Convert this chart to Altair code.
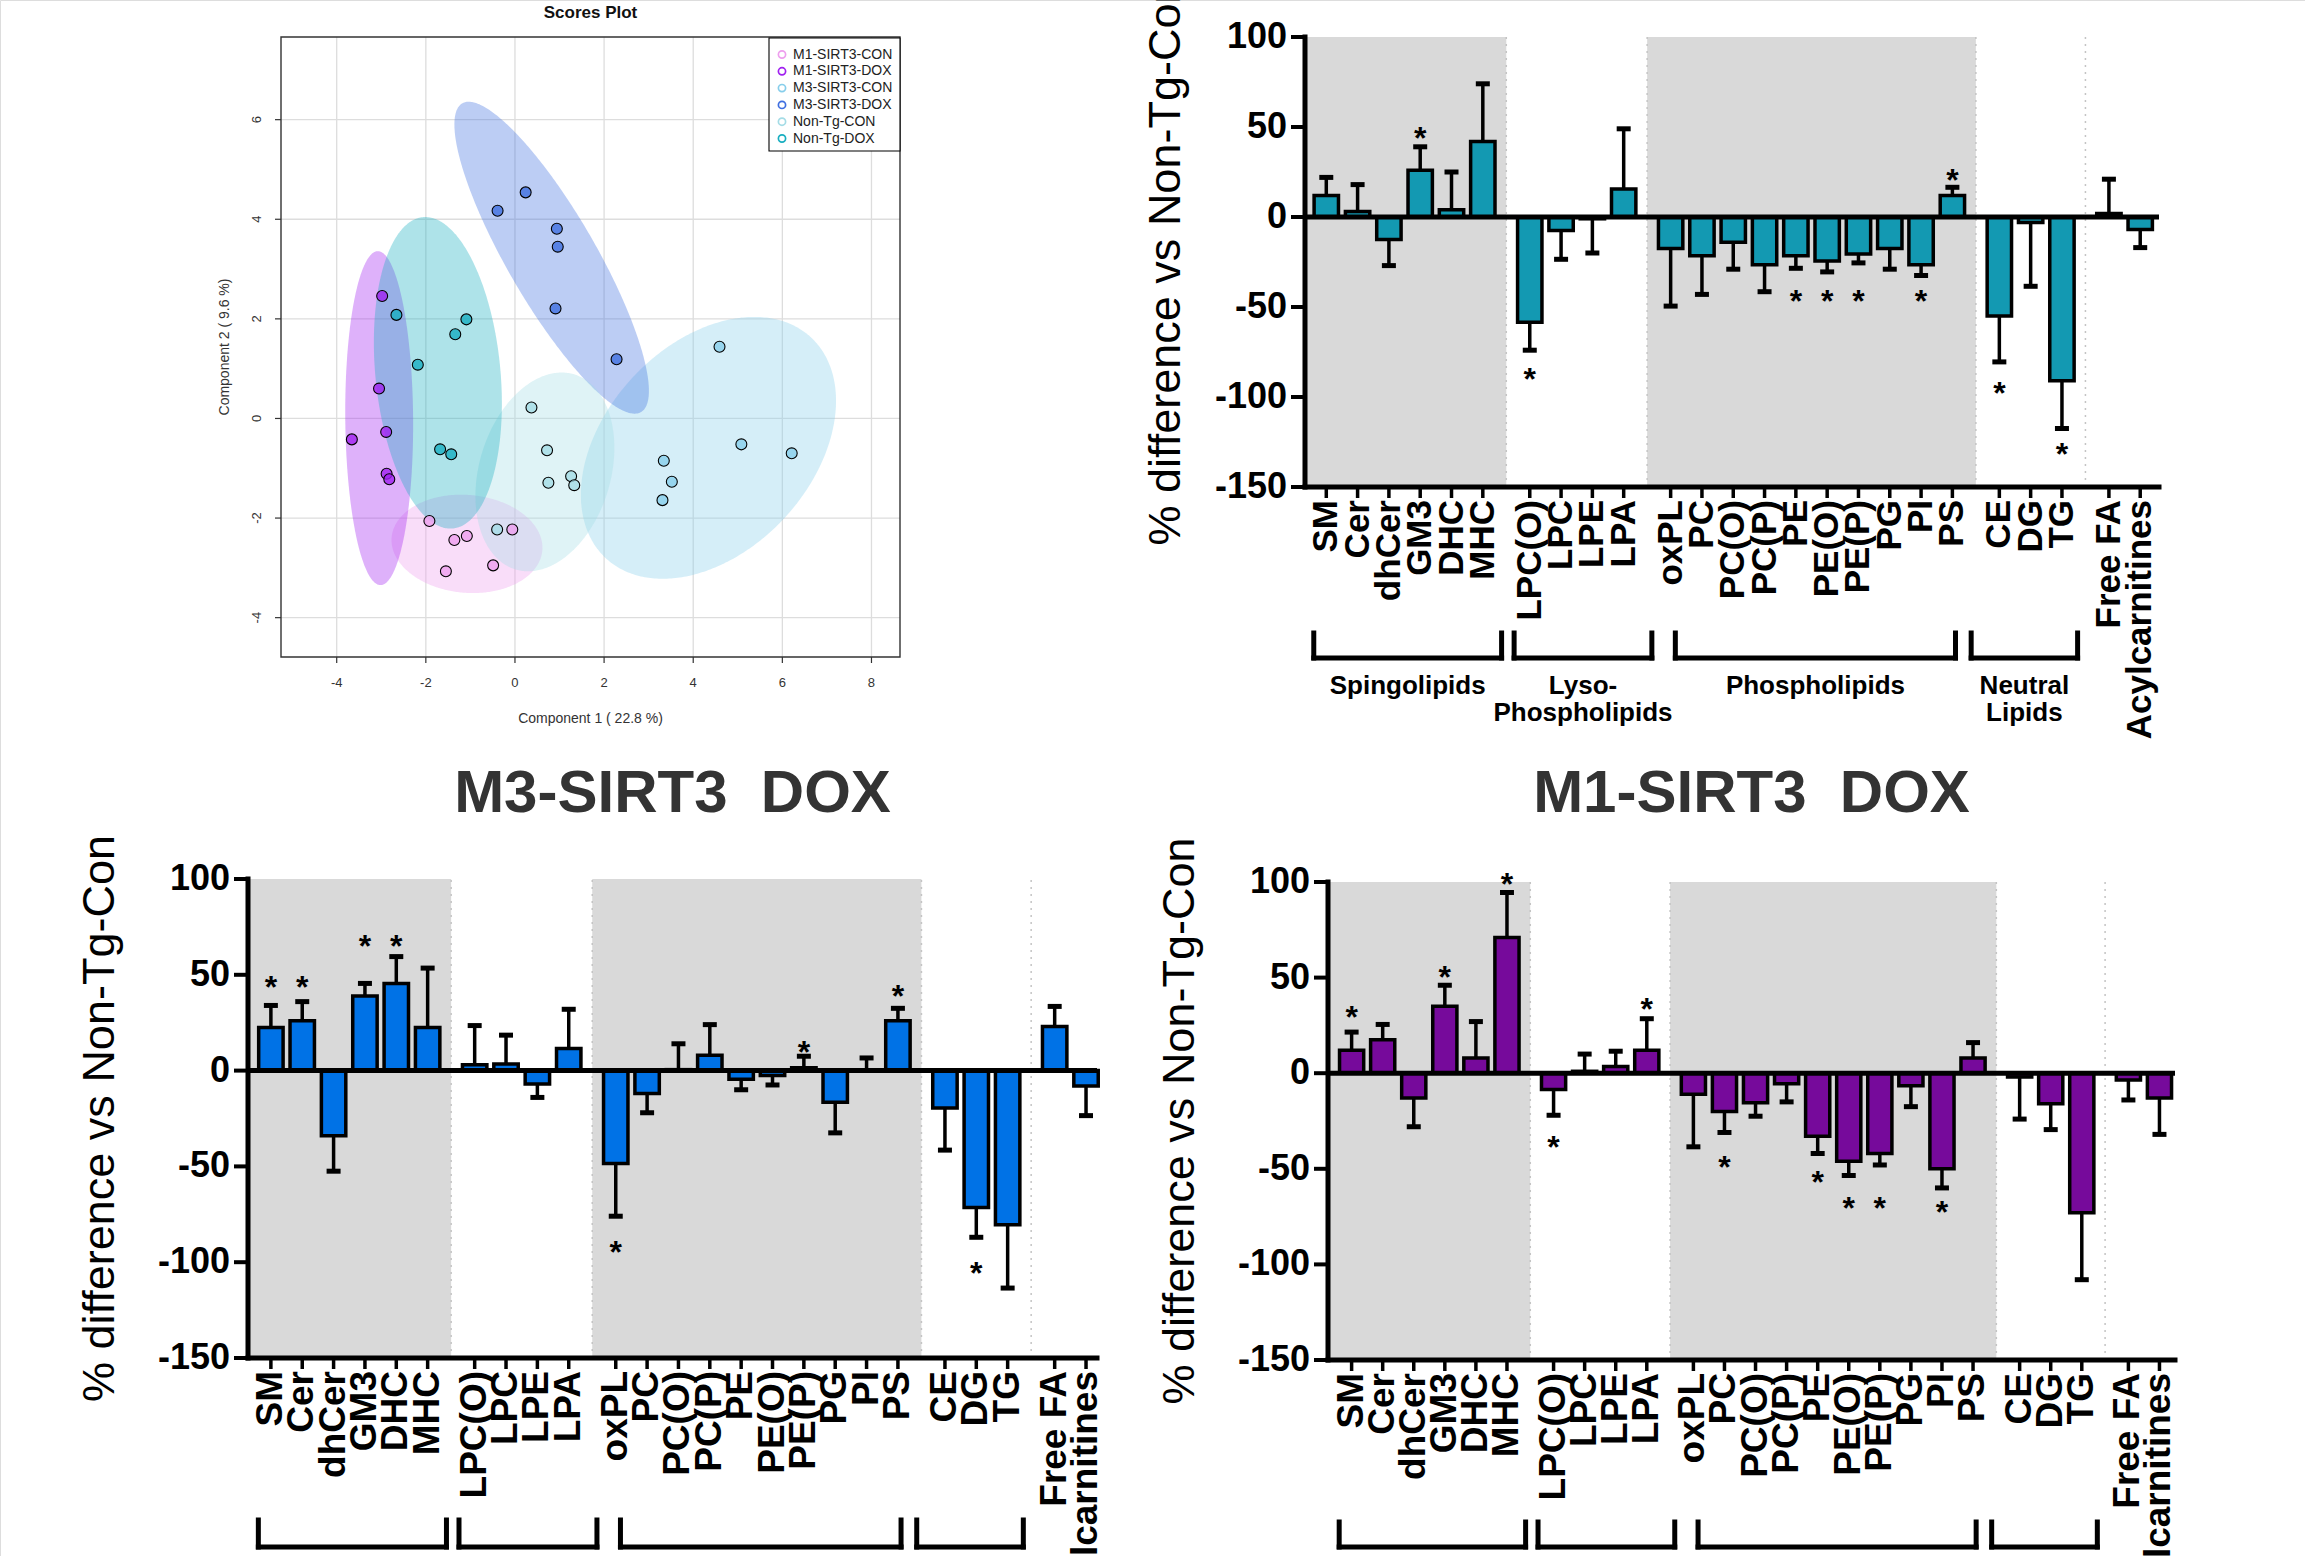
import altair as alt
import numpy as np
import pandas as pd

W, H = 2305, 1556
FONT = "Liberation Sans"

# ------------------------------------------------------------------
# Scores plot (PLS-DA) data
# ------------------------------------------------------------------
score_groups = ["M1-SIRT3-CON", "M1-SIRT3-DOX", "M3-SIRT3-CON",
                "M3-SIRT3-DOX", "Non-Tg-CON", "Non-Tg-DOX"]
score_colors = ["#EE9FEE", "#A020F0", "#87CEEB", "#3F6FE0", "#A4DCE6", "#18AEC0"]

m1_con_x = [-1.92, -1.36, -1.08, -1.55, -0.49, -0.06]
m1_con_y = [-2.06, -2.44, -2.36, -3.07, -2.95, -2.23]
m1_dox_x = [-2.98, -3.05, -2.89, -3.66, -2.88, -2.82]
m1_dox_y = [2.46, 0.60, -0.27, -0.42, -1.11, -1.22]
m3_con_x = [4.59, 5.08, 6.21, 3.34, 3.52, 3.31]
m3_con_y = [1.44, -0.52, -0.70, -0.85, -1.27, -1.64]
m3_dox_x = [0.24, -0.39, 0.94, 0.96, 0.91, 2.28]
m3_dox_y = [4.54, 4.17, 3.81, 3.45, 2.21, 1.19]
ntg_con_x = [0.37, 0.72, 0.75, 1.26, 1.33, -0.40]
ntg_con_y = [0.22, -0.64, -1.29, -1.16, -1.34, -2.23]
ntg_dox_x = [-2.66, -1.09, -1.34, -2.18, -1.68, -1.43]
ntg_dox_y = [2.08, 1.99, 1.69, 1.08, -0.62, -0.72]

score_xs = [m1_con_x, m1_dox_x, m3_con_x, m3_dox_x, ntg_con_x, ntg_dox_x]
score_ys = [m1_con_y, m1_dox_y, m3_con_y, m3_dox_y, ntg_con_y, ntg_dox_y]

score_xticks = [-4, -2, 0, 2, 4, 6, 8]
score_yticks = [-4, -2, 0, 2, 4, 6]

# ------------------------------------------------------------------
# Lipid class % difference data
# ------------------------------------------------------------------
categories = ["SM", "Cer", "dhCer", "GM3", "DHC", "MHC",
              "LPC(O)", "LPC", "LPE", "LPA",
              "oxPL", "PC", "PC(O)", "PC(P)", "PE", "PE(O)", "PE(P)", "PG", "PI", "PS",
              "CE", "DG", "TG",
              "Free FA", "Acylcarnitines"]
class_groups = ["Spingolipids", "Lyso-\nPhospholipids", "Phospholipids", "Neutral\nLipids", ""]
group_sizes = [6, 4, 10, 3, 2]

ntg_mean = [12, 3, -12.5, 26, 4, 42, -58.5, -7.5, -1, 15.5,
            -17.5, -21.5, -14, -26.5, -21.5, -24.5, -20.5, -17.5, -26.5, 12,
            -55, -3, -91, 2, -7]
ntg_err = [10, 15, 14.5, 13, 21, 32, 15.5, 16, 19, 33.5,
           32, 21.5, 15, 15, 7, 6, 5, 11.5, 6, 4.5,
           25.5, 35.5, 26.5, 19, 10]
ntg_star = {"GM3": 48, "LPC(O)": -86, "PE": -42.5, "PE(O)": -42.5, "PE(P)": -42.5,
            "PI": -42.5, "PS": 24.5, "CE": -94, "TG": -128}

m3_mean = [22.5, 26, -34, 39, 45.5, 22.5, 3, 3.5, -7, 11.5,
           -48.5, -12, 0.5, 8, -4.5, -2.5, 1.5, -16.5, 0.3, 26,
           -19.5, -71.5, -80.5, 23, -8]
m3_err = [11.5, 10, 18.5, 6.5, 14, 31, 20.5, 15, 7, 20.5,
          27.5, 10, 13.5, 16, 5.5, 5, 6, 16, 6.3, 6.5,
          22, 15.5, 33, 10.5, 15.5]
m3_star = {"SM": 47.5, "Cer": 47.5, "GM3": 68.5, "DHC": 68.5, "oxPL": -91,
           "PE(P)": 13.5, "PS": 42.5, "DG": -102}

m1_mean = [12, 17.5, -13, 35, 8, 71, -8.5, 1, 3.5, 12,
           -11, -20, -15.5, -5.5, -33, -46, -42, -6.5, -50, 8,
           -2, -16, -73, -3.5, -13]
m1_err = [9.5, 8, 15, 11, 19, 23.5, 13.5, 9, 8, 16.5,
          27.5, 11, 7, 9.5, 9, 7.5, 6, 11, 10, 8,
          22, 13.5, 35, 10.5, 19]
m1_star = {"SM": 33, "GM3": 54, "MHC": 102.5, "LPC(O)": -35, "LPA": 37.5,
           "PC": -45.5, "PE": -53, "PE(O)": -67, "PE(P)": -67, "PI": -69}

y_ticks_bar = [-150, -100, -50, 0, 50, 100]
Y_TITLE = "% difference vs Non-Tg-Con"

# ------------------------------------------------------------------
# derived layout helpers
# ------------------------------------------------------------------
one = pd.DataFrame({"k": [0]})

positions, starts, ends = [], [], []
p = 0.0
for gi, n in enumerate(group_sizes):
    starts.append(p)
    for j in range(n):
        positions.append(p)
        p += 1.0
    ends.append(p - 1.0)
    p += 0.5
bounds = [(ends[i] + starts[i + 1]) / 2 for i in range(len(group_sizes) - 1)]
BR_PAD = [(0.4, 0.6), (0.5, 0.9), (-0.15, 0.1), (0.9, 0.5)]

# ------------------------------------------------------------------
# Scores plot panel
# ------------------------------------------------------------------
SX_DOM, SX_RNG = [-5.25, 8.64], [281, 900]
SY_DOM, SY_RNG = [-4.79, 7.66], [657, 37]
sx_sc = alt.Scale(domain=SX_DOM, range=SX_RNG, nice=False, zero=False)
sy_sc = alt.Scale(domain=SY_DOM, range=SY_RNG, nice=False, zero=False)
fill_sc = alt.Scale(domain=score_groups, range=score_colors)


def inv_x(px):
    return SX_DOM[0] + (px - SX_RNG[0]) / (SX_RNG[1] - SX_RNG[0]) * (SX_DOM[1] - SX_DOM[0])


def inv_y(px):
    return SY_DOM[0] + (px - SY_RNG[0]) / (SY_RNG[1] - SY_RNG[0]) * (SY_DOM[1] - SY_DOM[0])


pts = pd.concat([pd.DataFrame({"group": g, "x": xs, "y": ys})
                 for g, xs, ys in zip(score_groups, score_xs, score_ys)], ignore_index=True)

K2 = 5.991  # chi-square(0.95, 2) -> 95% confidence ellipse
ell_rows = []
for g, xs, ys in zip(score_groups, score_xs, score_ys):
    xs, ys = np.asarray(xs), np.asarray(ys)
    cx, cy = xs.mean(), ys.mean()
    S = np.cov(xs, ys)
    A = np.linalg.inv(S)
    a, b, d = A[0, 0], A[0, 1], A[1, 1]
    half = np.sqrt(K2 * S[0, 0])
    dx = -half * np.cos(np.linspace(0, np.pi, 181))
    disc = np.clip(b * b * dx * dx - d * (a * dx * dx - K2), 0, None)
    lo = cy + (-b * dx - np.sqrt(disc)) / d
    hi = cy + (-b * dx + np.sqrt(disc)) / d
    ell_rows.append(pd.DataFrame({"group": g, "ex": cx + dx, "lo": lo, "hi": hi}))
ell = pd.concat(ell_rows, ignore_index=True)


def sX(field=None, datum=None):
    if datum is not None:
        return alt.X(datum=datum, type="quantitative", scale=sx_sc, axis=None)
    return alt.X(field, type="quantitative", scale=sx_sc, axis=None)


def sY(field=None, datum=None):
    if datum is not None:
        return alt.Y(datum=datum, type="quantitative", scale=sy_sc, axis=None)
    return alt.Y(field, type="quantitative", scale=sy_sc, axis=None, stack=None)


sxt = pd.DataFrame({"g": score_xticks, "t": [str(v) for v in score_xticks]})
syt = pd.DataFrame({"g": score_yticks, "t": [str(v) for v in score_yticks]})

grid_v = alt.Chart(sxt).mark_rule(color="#DDDDDD", strokeWidth=1.3).encode(
    x=sX("g"), y=sY(datum=SY_DOM[0]), y2=alt.Y2(datum=SY_DOM[1]))
grid_h = alt.Chart(syt).mark_rule(color="#DDDDDD", strokeWidth=1.3).encode(
    y=sY("g"), x=sX(datum=SX_DOM[0]), x2=alt.X2(datum=SX_DOM[1]))

ellipses = alt.Chart(ell).mark_area(opacity=0.35).encode(
    x=sX("ex"), y=sY("lo"), y2="hi:Q",
    fill=alt.Fill("group:N", scale=fill_sc, legend=None))

points = alt.Chart(pts).mark_circle(size=120, stroke="black", strokeWidth=1.1,
                                    opacity=1, fillOpacity=0.8).encode(
    x=sX("x"), y=sY("y"),
    fill=alt.Fill("group:N", scale=fill_sc, legend=None))

frame = alt.Chart(one).mark_rect(fillOpacity=0, stroke="#333333", strokeWidth=1.4).encode(
    x=sX(datum=SX_DOM[0]), x2=alt.X2(datum=SX_DOM[1]),
    y=sY(datum=SY_DOM[0]), y2=alt.Y2(datum=SY_DOM[1]))

sx_ticks = alt.Chart(sxt).mark_rule(color="#333333", strokeWidth=1.2, y2Offset=6).encode(
    x=sX("g"), y=sY(datum=SY_DOM[0]), y2=alt.Y2(datum=SY_DOM[0]))
sx_labels = alt.Chart(sxt).mark_text(font=FONT, fontSize=13, color="#333333",
                                     baseline="middle", align="center", yOffset=26).encode(
    x=sX("g"), y=sY(datum=SY_DOM[0]), text="t:N")
sy_ticks = alt.Chart(syt).mark_rule(color="#333333", strokeWidth=1.2, x2Offset=-6).encode(
    y=sY("g"), x=sX(datum=SX_DOM[0]), x2=alt.X2(datum=SX_DOM[0]))
sy_labels = alt.Chart(syt).mark_text(font=FONT, fontSize=13, color="#333333", angle=270,
                                     baseline="middle", align="center", xOffset=-24).encode(
    y=sY("g"), x=sX(datum=SX_DOM[0]), text="t:N")

sx_title = alt.Chart(one).mark_text(text="Component 1 ( 22.8 %)", font=FONT, fontSize=14,
                                    color="#333333", baseline="middle", align="center").encode(
    x=alt.value((SX_RNG[0] + SX_RNG[1]) / 2), y=alt.value(719))
sy_title = alt.Chart(one).mark_text(text="Component 2 ( 9.6 %)", font=FONT, fontSize=14,
                                    color="#333333", baseline="middle", align="center",
                                    angle=270).encode(
    x=alt.value(225), y=alt.value(347))
score_title = alt.Chart(one).mark_text(text="Scores Plot", font=FONT, fontSize=17,
                                       fontWeight="bold", color="#111111",
                                       baseline="middle", align="center").encode(
    x=alt.value((SX_RNG[0] + SX_RNG[1]) / 2), y=alt.value(13))

# legend (drawn inside the plot frame, top-right corner)
LEG_BOX = (769, 38, 900, 151)
leg_df = pd.DataFrame({"group": score_groups,
                       "sx": [inv_x(782)] * 6,
                       "tx": [inv_x(793)] * 6,
                       "ly": [inv_y(54.5 + 16.8 * i) for i in range(6)]})
leg_box = alt.Chart(one).mark_rect(fill="white", stroke="black", strokeWidth=1.1).encode(
    x=sX(datum=inv_x(LEG_BOX[0])), x2=alt.X2(datum=inv_x(LEG_BOX[2])),
    y=sY(datum=inv_y(LEG_BOX[1])), y2=alt.Y2(datum=inv_y(LEG_BOX[3])))
leg_sym = alt.Chart(leg_df).mark_point(filled=False, size=52, strokeWidth=1.7,
                                       opacity=1).encode(
    x=sX("sx"), y=sY("ly"),
    stroke=alt.Stroke("group:N", scale=alt.Scale(domain=score_groups, range=score_colors),
                      legend=None))
leg_txt = alt.Chart(leg_df).mark_text(font=FONT, fontSize=14, color="#222222",
                                      align="left", baseline="middle").encode(
    x=sX("tx"), y=sY("ly"), text="group:N")

scores_panel = alt.layer(grid_v, grid_h, ellipses, points, frame, sx_ticks, sx_labels,
                         sy_ticks, sy_labels, sx_title, sy_title, score_title,
                         leg_box, leg_sym, leg_txt)


# ------------------------------------------------------------------
# Bar panels
# ------------------------------------------------------------------
def lipid_panel(means, errs, stars, fill, x_dom, x_rng, y_rng, lab_size, br_off,
                ytitle_x, title=None, title_dy=0, glabel_off=None):
    sx = alt.Scale(domain=x_dom, range=x_rng, nice=False, zero=False)
    sy = alt.Scale(domain=[-150, 100], range=y_rng, nice=False, zero=False)

    def X(field=None, datum=None):
        if datum is not None:
            return alt.X(datum=datum, type="quantitative", scale=sx, axis=None)
        return alt.X(field, type="quantitative", scale=sx, axis=None)

    def Y(field=None, datum=None):
        if datum is not None:
            return alt.Y(datum=datum, type="quantitative", scale=sy, axis=None)
        return alt.Y(field, type="quantitative", scale=sy, axis=None, stack=None)

    df = pd.DataFrame({"cat": categories, "pos": positions, "mean": means, "err": errs})
    df["end"] = np.where(df["mean"] >= 0, df["mean"] + df["err"], df["mean"] - df["err"])
    star_df = pd.DataFrame({"pos": [positions[categories.index(c)] for c in stars],
                            "sy": list(stars.values())})
    ytk = pd.DataFrame({"v": y_ticks_bar, "t": [str(v) for v in y_ticks_bar]})

    shade_df = pd.DataFrame({"x0": [x_dom[0], bounds[1]], "x1": [bounds[0], bounds[2]]})
    bound_df = pd.DataFrame({"b": bounds})
    br_lo = [starts[i] - BR_PAD[i][0] for i in range(4)]
    br_hi = [ends[i] + BR_PAD[i][1] for i in range(4)]
    br_df = pd.DataFrame({"lo": br_lo, "hi": br_hi,
                          "cx": [(l + h) / 2 for l, h in zip(br_lo, br_hi)],
                          "label": class_groups[:4]})
    br_ends = pd.DataFrame({"bx": br_lo + br_hi})

    slot = (x_rng[1] - x_rng[0]) / (x_dom[1] - x_dom[0])
    bar_size = slot * 0.88 - 3.5

    shade = alt.Chart(shade_df).mark_rect(color="#D9D9D9").encode(
        x=X("x0"), x2="x1:Q", y=Y(datum=-150), y2=alt.Y2(datum=100))
    dotted = alt.Chart(bound_df).mark_rule(color="#C4C4C4", strokeWidth=1.5,
                                           strokeDash=[2, 5]).encode(
        x=X("b"), y=Y(datum=-150), y2=alt.Y2(datum=100))
    stems = alt.Chart(df).mark_rule(color="black", strokeWidth=3.5).encode(
        x=X("pos"), y=Y("mean"), y2="end:Q")
    caps = alt.Chart(df).mark_tick(orient="horizontal", color="black", thickness=5,
                                   size=14, opacity=1).encode(
        x=X("pos"), y=Y("end"))
    bars = alt.Chart(df).mark_bar(size=bar_size, fill=fill, stroke="black",
                                  strokeWidth=3.5, strokeJoin="miter", opacity=1).encode(
        x=X("pos"), y=Y("mean"), y2=alt.Y2(datum=0))
    zero = alt.Chart(one).mark_rule(color="black", strokeWidth=5).encode(
        x=X(datum=x_dom[0]), x2=alt.X2(datum=x_dom[1]), y=Y(datum=0))
    star_marks = alt.Chart(star_df).mark_text(text="*", font=FONT, fontSize=32,
                                              fontWeight="bold", color="black",
                                              baseline="middle", dy=8).encode(
        x=X("pos"), y=Y("sy"))

    # axes
    y_dom = alt.Chart(one).mark_rule(color="black", strokeWidth=5, strokeCap="square").encode(
        x=X(datum=x_dom[0]), y=Y(datum=-150), y2=alt.Y2(datum=100))
    x_dom_line = alt.Chart(one).mark_rule(color="black", strokeWidth=5,
                                          strokeCap="square").encode(
        x=X(datum=x_dom[0]), x2=alt.X2(datum=x_dom[1]), y=Y(datum=-150))
    y_tk = alt.Chart(ytk).mark_rule(color="black", strokeWidth=4, xOffset=-14).encode(
        x=X(datum=x_dom[0]), x2=alt.X2(datum=x_dom[0]), y=Y("v"))
    y_lb = alt.Chart(ytk).mark_text(font=FONT, fontSize=36, fontWeight="bold", color="black",
                                    align="right", baseline="middle", xOffset=-18).encode(
        x=X(datum=x_dom[0]), y=Y("v"), text="t:N")
    x_tk = alt.Chart(df).mark_rule(color="black", strokeWidth=3.5, y2Offset=11).encode(
        x=X("pos"), y=Y(datum=-150), y2=alt.Y2(datum=-150))
    x_lb = alt.Chart(df).mark_text(font=FONT, fontSize=lab_size, fontWeight="bold",
                                   color="black", angle=270, align="right",
                                   baseline="middle", yOffset=13).encode(
        x=X("pos"), y=Y(datum=-150), text="cat:N")
    y_ttl = alt.Chart(one).mark_text(text=Y_TITLE, font=FONT, fontSize=45, color="black",
                                     angle=270, align="center", baseline="middle").encode(
        x=alt.value(ytitle_x), y=alt.value((y_rng[0] + y_rng[1]) / 2))

    br_h = alt.Chart(br_df).mark_rule(color="black", strokeWidth=5, strokeCap="square",
                                      yOffset=br_off[1]).encode(
        x=X("lo"), x2="hi:Q", y=Y(datum=-150))
    br_v = alt.Chart(br_ends).mark_rule(color="black", strokeWidth=5, strokeCap="square",
                                        yOffset=br_off[0], y2Offset=br_off[1]).encode(
        x=X("bx"), y=Y(datum=-150), y2=alt.Y2(datum=-150))

    layers = [shade, dotted, stems, caps, bars, zero, star_marks,
              y_dom, x_dom_line, y_tk, y_lb, x_tk, x_lb, y_ttl, br_h, br_v]
    if glabel_off is not None:
        glabels = alt.Chart(br_df).mark_text(font=FONT, fontSize=26, fontWeight="bold",
                                             color="black", lineBreak="\n", lineHeight=27,
                                             baseline="top", align="center",
                                             yOffset=glabel_off).encode(
            x=X("cx"), y=Y(datum=-150), text="label:N")
        layers.append(glabels)
    if title is not None:
        ttl = alt.Chart(one).mark_text(text=title, font=FONT, fontSize=60,
                                       fontWeight="bold", color="#333333",
                                       baseline="middle", dy=title_dy).encode(
            x=X(datum=(x_dom[0] + x_dom[1]) / 2), y=Y(datum=100))
        layers.append(ttl)
    return alt.layer(*layers)


ntg_panel = lipid_panel(ntg_mean, ntg_err, ntg_star, "#1399B2",
                        x_dom=[-0.68, 26.6], x_rng=[1300, 2164], y_rng=[487, 37],
                        lab_size=35, br_off=(146, 171), ytitle_x=1166, glabel_off=186)
m3_panel = lipid_panel(m3_mean, m3_err, m3_star, "#0072E6",
                       x_dom=[-0.73, 26.35], x_rng=[243, 1102], y_rng=[1358, 879],
                       lab_size=37, br_off=(162, 189), ytitle_x=100,
                       title="M3-SIRT3\u00a0 DOX", title_dy=-85)
m1_panel = lipid_panel(m1_mean, m1_err, m1_star, "#760A9B",
                       x_dom=[-0.76, 26.5], x_rng=[1323, 2180], y_rng=[1360, 882],
                       lab_size=37, br_off=(162, 187), ytitle_x=1180,
                       title="M1-SIRT3\u00a0 DOX", title_dy=-88)

chart = alt.layer(scores_panel, ntg_panel, m3_panel, m1_panel).resolve_scale(
    x="independent", y="independent"
).properties(
    width=W, height=H, autosize=alt.AutoSizeParams(type="none"), padding=0,
    background="white"
).configure_view(stroke=None).configure(font=FONT)

chart.save("out.html", embed_options={"renderer": "svg", "actions": False})
